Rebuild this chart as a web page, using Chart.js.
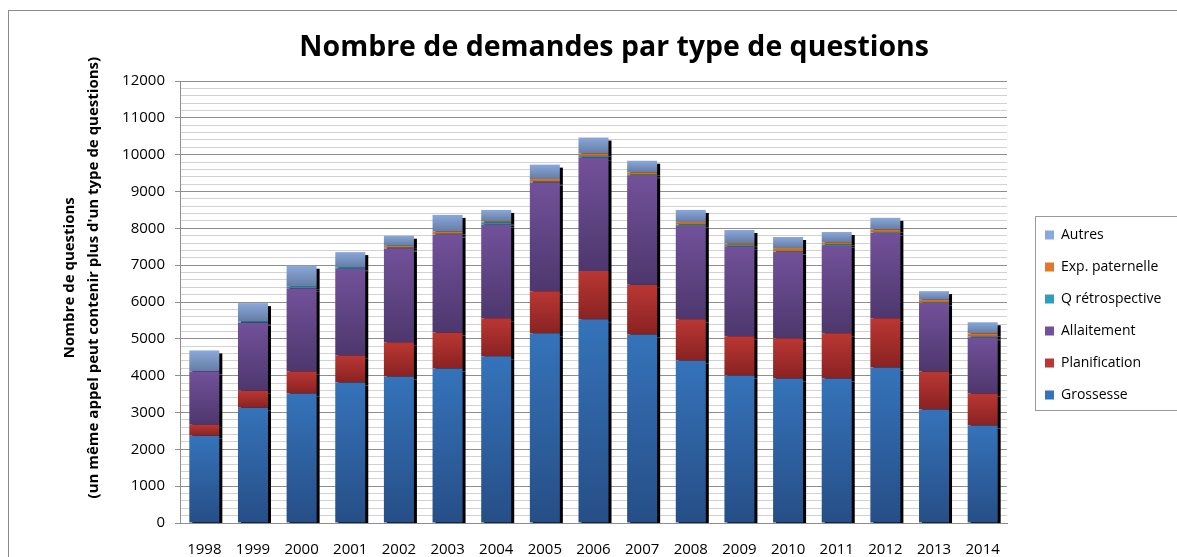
<!DOCTYPE html>
<html><head><meta charset="utf-8">
<script src="https://cdn.jsdelivr.net/npm/chart.js@4.4.1/dist/chart.umd.min.js"></script>
<style>
html,body{margin:0;padding:0;background:#fff;overflow:hidden;width:1177px;height:557px;}
#wrap{position:absolute;left:0;top:0;width:1177px;height:557px;}
#frame{position:absolute;left:8px;top:10px;width:1300px;height:700px;border:1px solid #8a8a8a;pointer-events:none;}
</style></head><body>
<div id="wrap"><canvas id="c" width="1177" height="557"></canvas></div>
<div id="frame"></div>
<script>
const titleText = 'Nombre de demandes par type de questions';
const yTitleLines = ['Nombre de questions', "(un même appel peut contenir plus d'un type de questions)"];
const years = ['1998','1999','2000','2001','2002','2003','2004','2005','2006','2007','2008','2009','2010','2011','2012','2013','2014'];
const grossesse     = [2370, 3130, 3515, 3815, 3980, 4195, 4525, 5150, 5530, 5120, 4415, 4005, 3925, 3925, 4225, 3080, 2645];
const planification = [ 300,  460,  600,  735,  925,  980, 1035, 1145, 1310, 1345, 1115, 1065, 1090, 1225, 1335, 1035,  870];
const allaitement   = [1445, 1850, 2260, 2350, 2550, 2660, 2540, 2950, 3080, 2960, 2535, 2435, 2345, 2370, 2315, 1855, 1525];
const qRetro        = [   0,   30,   40,   40,   20,   15,   60,   20,   45,   30,   35,   45,   15,   40,   15,   15,   25];
const expPaternelle = [   0,    0,    0,    0,   50,   60,   30,   75,   65,   65,   70,   45,   90,   60,   75,   75,   80];
const autres        = [ 570,  500,  570,  415,  275,  455,  310,  390,  435,  315,  330,  360,  300,  280,  320,  235,  305];
const yTicksMajor = 1000;

const seriesNames = ['Grossesse','Planification','Allaitement','Q rétrospective','Exp. paternelle','Autres'];
const seriesData = [grossesse, planification, allaitement, qRetro, expPaternelle, autres];
const seriesStyle = [
  {legend:'#2f5f9f', top:'#3573ba', bottom:'#264e86'},
  {legend:'#b2302d', top:'#ba3733', bottom:'#892222'},
  {legend:'#6a4c95', top:'#72519a', bottom:'#4d376d'},
  {legend:'#2a97ae', top:'#2e9fb6', bottom:'#23788c'},
  {legend:'#e57c2a', top:'#e2792a', bottom:'#b9601c'},
  {legend:'#8aa6d6', top:'#8aa8da', bottom:'#657ca4'}
];
const F = "'Open Sans', sans-serif";

function makeBg(i){
  return (ctx) => {
    const s = seriesStyle[i];
    if (ctx.type !== 'data') return s.legend;
    const chart = ctx.chart, y = chart.scales && chart.scales.y;
    if (!y || !chart.chartArea) return s.legend;
    let base = 0;
    for (let k = 0; k < i; k++) base += seriesData[k][ctx.dataIndex];
    const v = seriesData[i][ctx.dataIndex];
    const yTop = y.getPixelForValue(base + v), yBot = y.getPixelForValue(base);
    if (!isFinite(yTop) || !isFinite(yBot) || yBot - yTop < 1) return s.top;
    const g = chart.ctx.createLinearGradient(0, yTop, 0, yBot);
    g.addColorStop(0, s.top); g.addColorStop(1, s.bottom);
    return g;
  };
}

const shadowPlugin = {
  id: 'barShadow',
  beforeDatasetsDraw(chart){ const c = chart.ctx; c.save(); c.shadowColor = '#000'; c.shadowOffsetX = 3; c.shadowOffsetY = 3; c.shadowBlur = 0; },
  afterDatasetsDraw(chart){ chart.ctx.restore(); }
};
const titlesPlugin = {
  id: 'titles',
  afterDraw(chart){
    const {ctx, chartArea} = chart;
    ctx.save();
    ctx.fillStyle = '#000'; ctx.textAlign = 'center'; ctx.textBaseline = 'middle';
    ctx.font = 'bold 28.5px ' + F;
    ctx.fillText(titleText, chartArea.left + chartArea.width * 0.525, chartArea.top - 33);
    ctx.font = 'bold 15px ' + F;
    const cy = chartArea.top + chartArea.height * 0.445;
    yTitleLines.forEach((t, i) => {
      ctx.save(); ctx.translate(chartArea.left - 110 + i * 24, cy); ctx.rotate(-Math.PI / 2); ctx.fillText(t, 0, 0); ctx.restore();
    });
    ctx.restore();
  }
};
const legendBoxPlugin = {
  id: 'legendBox',
  afterDraw(chart){
    const lg = chart.legend; if (!lg || !lg.legendHitBoxes || !lg.legendHitBoxes.length) return;
    const hb = lg.legendHitBoxes, first = hb[0], last = hb[hb.length - 1];
    const ctx = chart.ctx;
    const x = first.left - 10, y = first.top - 12;
    const h = last.top + last.height + 8 - y;
    ctx.save(); ctx.strokeStyle = '#9a9a9a'; ctx.lineWidth = 1;
    ctx.strokeRect(Math.round(x) + 0.5, Math.round(y) + 0.5, 170, Math.round(h));
    ctx.restore();
  }
};

const datasets = seriesNames.map((n, i) => ({
  label: n, data: seriesData[i], backgroundColor: makeBg(i), borderWidth: 0,
  barPercentage: 0.617, categoryPercentage: 1.0, clip: 0, stack: 's'
}));

const isMajor = (ctx) => ctx.tick && ctx.tick.value % yTicksMajor === 0;

const chart = new Chart(document.getElementById('c'), {
  type: 'bar',
  data: { labels: years, datasets },
  options: {
    responsive: false, animation: false,
    layout: { padding: { left: 0, right: 0, top: 81, bottom: 0 } },
    plugins: {
      title: { display: false },
      legend: {
        position: 'right', align: 'start', reverse: true,
        title: { display: true, text: ' ', font: { size: 12 }, padding: { top: 114.6, bottom: 0 } },
        labels: { boxWidth: 9, boxHeight: 9, padding: 18, color: '#000', font: { family: F, size: 14 } }
      },
      tooltip: { enabled: false }
    },
    scales: {
      x: {
        stacked: true,
        grid: { display: false, drawTicks: false },
        border: { display: true, color: '#8e8e8e' },
        ticks: { color: '#000', font: { family: F, size: 15 }, padding: 18, maxRotation: 0, autoSkip: false },
        afterFit: s => { s.height = 34; }
      },
      y: {
        stacked: true, min: 0, max: 12000,
        ticks: { stepSize: 200, autoSkip: false, padding: 10, color: '#000', font: { family: F, size: 15 },
                 callback: v => (v % yTicksMajor === 0 ? String(v) : '') },
        grid: { color: c => isMajor(c) ? '#8e8e8e' : '#d2d2d2', tickColor: c => isMajor(c) ? '#8e8e8e' : 'rgba(0,0,0,0)', tickLength: 5, lineWidth: 1 },
        border: { color: '#8e8e8e' },
        afterFit: s => { s.width = 180; }
      },
      y2: {
        position: 'right', display: true,
        grid: { display: false, drawTicks: false }, ticks: { display: false }, border: { display: false },
        afterFit: s => { s.width = 20; }
      }
    }
  },
  plugins: [shadowPlugin, titlesPlugin, legendBoxPlugin]
});
const origFit = chart.legend.fit;
chart.legend.fit = function(){ origFit.call(this); this.width = 150; };
chart.update();
</script>
</body></html>
